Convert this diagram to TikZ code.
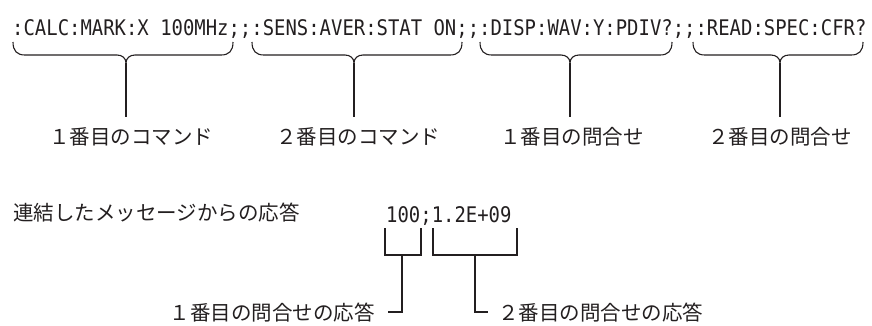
\documentclass[tikz,border=0pt]{standalone}
\usepackage{fontspec}
\newfontfamily\codefont{DejaVu Sans Mono}[FakeStretch=0.88]
\newfontfamily\jpfont{Noto Sans CJK JP}
\definecolor{ink}{HTML}{231F20}
\newcommand\bracepath[3]{%
  (#1,42) .. controls (#1,51) and ({#1+4},55) .. ({#1+12},55) -- ({#3-9},55)
  .. controls ({#3-4},55) and (#3,58) .. (#3,63)
  .. controls (#3,58) and ({#3+4},55) .. ({#3+9},55) -- ({#2-12},55)
  .. controls ({#2-4},55) and (#2,51) .. (#2,42)}
\begin{document}
\begin{tikzpicture}[x=1pt,y=-1pt,
  code/.style={font=\codefont\fontsize{21.5}{21.5}\selectfont, text=ink, inner sep=0pt},
  label/.style={font=\jpfont\fontsize{20.5}{20.5}\selectfont, text=ink, inner sep=0pt},
  wire/.style={draw=ink, line width=1.1pt}]
\useasboundingbox (0,0) rectangle (872,325);
% command string
\node[code, anchor=base west] (cmd) at (12,35) {:CALC:MARK:X 100MHz;;:SENS:AVER:STAT ON;;:DISP:WAV:Y:PDIV?;;:READ:SPEC:CFR?};
% braces
\draw[wire] \bracepath{13}{233}{126};
\draw[wire] \bracepath{252}{462}{354};
\draw[wire] \bracepath{480}{672}{570};
\draw[wire] \bracepath{693}{863}{780};
\coordinate (c1) at (126,63);
\coordinate (c2) at (354,63);
\coordinate (c3) at (570,63);
\coordinate (c4) at (780,63);
% labels
\node[label] (l1) at (131,137) {１番目のコマンド};
\node[label] (l2) at (358,137) {２番目のコマンド};
\node[label] (l3) at (572,137) {１番目の問合せ};
\node[label] (l4) at (780,137) {２番目の問合せ};
\draw[wire] (c1) -- (126,117);
\draw[wire] (c2) -- (354,117);
\draw[wire] (c3) -- (570,117);
\draw[wire] (c4) -- (780,117);
% response
\node[label, anchor=west] (resp) at (13,213) {連結したメッセージからの応答};
\node[code, anchor=base west] (ans) at (386,222) {100;1.2E+09};
\draw[wire] (385,228) -- (385,255) -- (421,255) -- (421,228);
\draw[wire] (433,228) -- (433,255) -- (517,255) -- (517,228);
\node[label, anchor=east] (r1) at (375,313) {１番目の問合せの応答};
\node[label, anchor=west] (r2) at (498,313) {２番目の問合せの応答};
\coordinate (h1) at (388,312);
\coordinate (h2) at (488,312);
\draw[wire] (402,255) -- (402,312) -- (h1);
\draw[wire] (475,255) -- (475,312) -- (h2);
\end{tikzpicture}
\end{document}
